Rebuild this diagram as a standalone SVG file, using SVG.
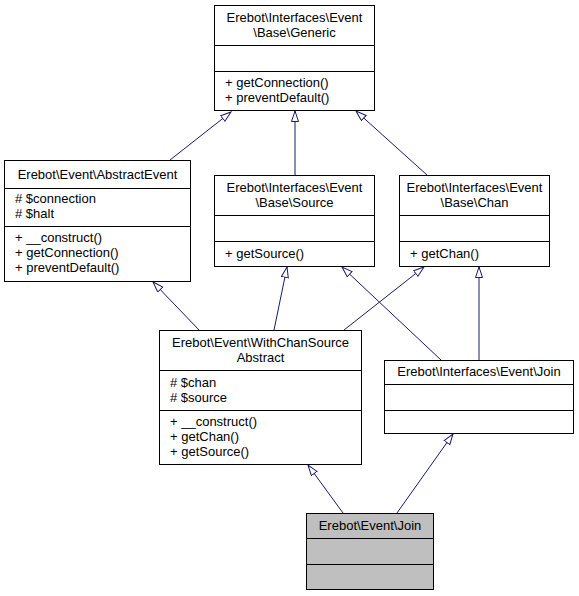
<svg xmlns="http://www.w3.org/2000/svg" width="579" height="596" viewBox="0 0 579 596">
<defs>
<style>
.box{fill:#ffffff;stroke:#000000;stroke-width:1}
.cur{fill:#bfbfbf;stroke:#000000;stroke-width:1}
.div{stroke:#000000;stroke-width:1}
text{font-family:"Liberation Sans",Arial,Helvetica,sans-serif;font-size:13px;fill:#000000}
.t{text-anchor:middle}
.e{fill:none;stroke:#191970;stroke-width:1}
</style>
<marker id="inh" markerUnits="userSpaceOnUse" markerWidth="14" markerHeight="12" refX="11" refY="4" orient="auto">
<path d="M0.5,0.5 L11,4 L0.5,7.5 Z" fill="#ffffff" stroke="#191970" stroke-width="1"/>
</marker>
</defs>
<rect width="579" height="596" fill="#ffffff"/>
<g id="edges">
<path class="e" d="M170,160 L231,112" marker-end="url(#inh)"/>
<path class="e" d="M295,175 L295,111" marker-end="url(#inh)"/>
<path class="e" d="M427,175 L356,111" marker-end="url(#inh)"/>
<path class="e" d="M199,330 L153,282" marker-end="url(#inh)"/>
<path class="e" d="M274,330 L287,267" marker-end="url(#inh)"/>
<path class="e" d="M344,330 L424,267" marker-end="url(#inh)"/>
<path class="e" d="M441,360 L342,267" marker-end="url(#inh)"/>
<path class="e" d="M479,360 L479,267" marker-end="url(#inh)"/>
<path class="e" d="M343,513 L308,465" marker-end="url(#inh)"/>
<path class="e" d="M397,513 L453,434" marker-end="url(#inh)"/>
</g>
<g id="generic">
<rect class="box" x="214.5" y="5.5" width="160" height="105"/>
<line class="div" x1="214.5" y1="45.5" x2="374.5" y2="45.5"/>
<line class="div" x1="214.5" y1="71.5" x2="374.5" y2="71.5"/>
<text class="t" x="294.5" y="22">Erebot\Interfaces\Event</text>
<text class="t" x="294.5" y="37">\Base\Generic</text>
<text x="225" y="87">+ getConnection()</text>
<text x="225" y="102">+ preventDefault()</text>
</g>
<g id="abstractevent">
<rect class="box" x="4.5" y="160.5" width="186" height="121"/>
<line class="div" x1="4.5" y1="188.5" x2="190.5" y2="188.5"/>
<line class="div" x1="4.5" y1="226.5" x2="190.5" y2="226.5"/>
<text class="t" x="97.5" y="178.5">Erebot\Event\AbstractEvent</text>
<text x="15" y="203">#  $connection</text>
<text x="15" y="218">#  $halt</text>
<text x="15" y="242">+ __construct()</text>
<text x="15" y="257">+ getConnection()</text>
<text x="15" y="272">+ preventDefault()</text>
</g>
<g id="source">
<rect class="box" x="214.5" y="175.5" width="160" height="91"/>
<line class="div" x1="214.5" y1="215.5" x2="374.5" y2="215.5"/>
<line class="div" x1="214.5" y1="241.5" x2="374.5" y2="241.5"/>
<text class="t" x="294.5" y="192">Erebot\Interfaces\Event</text>
<text class="t" x="294.5" y="207">\Base\Source</text>
<text x="225" y="258">+ getSource()</text>
</g>
<g id="chan">
<rect class="box" x="399.5" y="175.5" width="150" height="91"/>
<line class="div" x1="399.5" y1="215.5" x2="549.5" y2="215.5"/>
<line class="div" x1="399.5" y1="241.5" x2="549.5" y2="241.5"/>
<text class="t" x="474.5" y="192">Erebot\Interfaces\Event</text>
<text class="t" x="474.5" y="207">\Base\Chan</text>
<text x="410" y="258">+ getChan()</text>
</g>
<g id="withchansource">
<rect class="box" x="159.5" y="330.5" width="202" height="134"/>
<line class="div" x1="159.5" y1="370.5" x2="361.5" y2="370.5"/>
<line class="div" x1="159.5" y1="410.5" x2="361.5" y2="410.5"/>
<text class="t" x="260.5" y="347">Erebot\Event\WithChanSource</text>
<text class="t" x="260.5" y="362">Abstract</text>
<text x="170" y="387">#  $chan</text>
<text x="170" y="402">#  $source</text>
<text x="170" y="426">+ __construct()</text>
<text x="170" y="441">+ getChan()</text>
<text x="170" y="456">+ getSource()</text>
</g>
<g id="ijoin">
<rect class="box" x="384.5" y="360.5" width="189" height="73"/>
<line class="div" x1="384.5" y1="384.5" x2="573.5" y2="384.5"/>
<line class="div" x1="384.5" y1="410.5" x2="573.5" y2="410.5"/>
<text class="t" x="479" y="376">Erebot\Interfaces\Event\Join</text>
</g>
<g id="ejoin">
<rect class="cur" x="306.5" y="513.5" width="127" height="76"/>
<line class="div" x1="306.5" y1="538.5" x2="433.5" y2="538.5"/>
<line class="div" x1="306.5" y1="564.5" x2="433.5" y2="564.5"/>
<text class="t" x="370" y="530">Erebot\Event\Join</text>
</g>
</svg>
